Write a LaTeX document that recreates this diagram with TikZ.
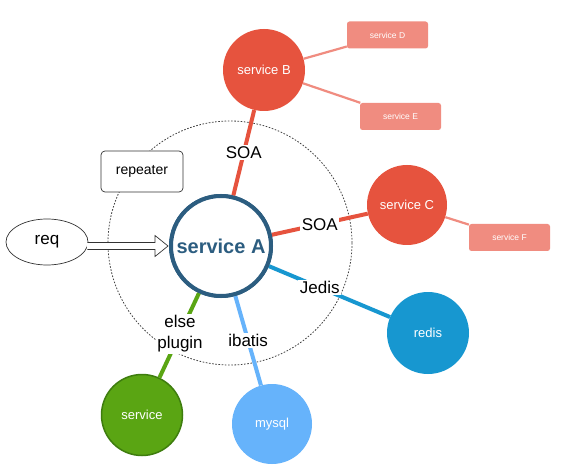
\documentclass[tikz,border=0pt]{standalone}
\usepackage{fontspec}
\setmainfont{Liberation Sans}
\usetikzlibrary{arrows.meta,shapes.geometric,calc}
\definecolor{cA}{HTML}{2C5D80}
\definecolor{cRed}{HTML}{E6533E}
\definecolor{cPink}{HTML}{F08C80}
\definecolor{cRedis}{HTML}{1797D0}
\definecolor{cMysql}{HTML}{66B3FB}
\definecolor{cGreen}{HTML}{5AA513}
\definecolor{cGreenD}{HTML}{3E7D0E}
\tikzset{
  svc/.style={circle, inner sep=0pt, text=white, font=\fontsize{13}{15}\selectfont},
  small/.style={rectangle, rounded corners=2.5pt, fill=cPink, text=white, minimum width=81pt, minimum height=27pt, inner sep=0pt, font=\fontsize{8.5}{10}\selectfont},
  lbl/.style={fill=white, inner sep=1.5pt, text=black, font=\fontsize{17}{19}\selectfont},
  thick4/.style={line width=4pt},
  thin2/.style={line width=2.2pt, cPink},
  hollowarrow/.style={draw=black!80, line width=0.7pt, fill=white, line join=miter},
}
\begin{document}
\begin{tikzpicture}[x=1pt, y=-1pt]
\useasboundingbox (0,0) rectangle (565,473);
\fill[white] (0,0) rectangle (565,473);
% dashed region
\draw[black!75, line width=0.8pt, dash pattern=on 1.6pt off 1.6pt] (230,243) circle (122);
% nodes
\node[circle, draw=cA, line width=4pt, fill=white, minimum size=100pt, inner sep=0pt, text=cA, font=\fontsize{20}{22}\selectfont\bfseries] (A) at (221,246) {service A};
\node[svc, fill=cRed, minimum size=82pt] (B) at (264,70) {service B};
\node[svc, fill=cRed, minimum size=80pt] (C) at (407,205) {service C};
\node[svc, fill=cRedis, minimum size=82pt] (R) at (428,333) {redis};
\node[svc, fill=cMysql, minimum size=80pt] (M) at (272,424) {mysql};
\node[svc, fill=cGreen, draw=cGreenD, line width=1.5pt, minimum size=81pt] (G) at (142,415) {service};
\node[small] (D) at (387.5,35) {service D};
\node[small] (E) at (400.5,116.5) {service E};
\node[small] (F) at (509.5,237.5) {service F};
\node[ellipse, draw=black!80, line width=0.7pt, minimum width=82pt, minimum height=46pt, inner sep=0pt, font=\fontsize{17}{19}\selectfont] (req) at (47,242) {req};
\node[rectangle, rounded corners=4pt, draw=black!80, line width=0.7pt, fill=white, minimum width=82pt, minimum height=41pt, inner sep=0pt, font=\fontsize{14}{16}\selectfont] (rep) at (142,171.5) {repeater};
% connectors
\draw[thin2] (B) -- (D);
\draw[thin2] (B) -- (E);
\draw[thin2] (C) -- (F);
\draw[thick4, cRed] (A) -- node[lbl, pos=0.5] {SOA} (B);
\draw[thick4, cRed] (A) -- node[lbl, pos=0.5] {SOA} (C);
\draw[thick4, cRedis] (A) -- node[lbl, pos=0.42] {Jedis} (R);
\draw[thick4, cMysql] (A) -- node[lbl, pos=0.5] {ibatis} (M);
\draw[thick4, cGreen] (A) -- node[lbl, pos=0.48, align=center, font=\fontsize{17}{21}\selectfont] {else\\plugin} (G);
% redraw A on top of line ends
\node[circle, draw=cA, line width=4pt, fill=white, minimum size=100pt, inner sep=0pt, text=cA, font=\fontsize{20}{22}\selectfont\bfseries] at (A) {service A};
% request arrow (hollow block arrow)
\coordinate (reqS) at ($(req.east |- A.west)+(-1,0)$);
\coordinate (tip) at ($(A.west)+(-1,0)$);
\fill[white] ($(reqS)+(0,-3.5)$) rectangle ($(tip)+(-13,3.5)$);
\draw[hollowarrow] ($(reqS)+(0,-3.5)$) -- ($(tip)+(-13,-3.5)$) -- ($(tip)+(-13,-10.5)$) -- (tip) -- ($(tip)+(-13,10.5)$) -- ($(tip)+(-13,3.5)$) -- ($(reqS)+(0,3.5)$);
\end{tikzpicture}
\end{document}
